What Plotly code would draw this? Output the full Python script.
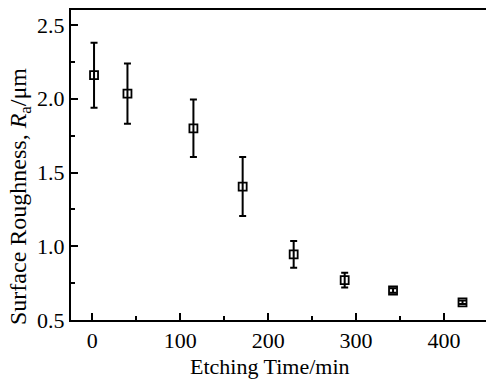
import plotly.graph_objects as go

etching_time = [2, 40, 115, 171, 229, 287, 342, 421]
roughness = [2.16, 2.035, 1.80, 1.405, 0.945, 0.77, 0.70, 0.62]
roughness_err = [0.22, 0.205, 0.195, 0.2, 0.09, 0.05, 0.015, 0.012]

font_family = "Liberation Serif"

fig = go.Figure()
fig.add_trace(go.Scatter(
    x=etching_time, y=roughness,
    mode="markers",
    marker=dict(symbol="square-open", size=8, color="black", line=dict(width=1.8, color="black")),
    error_y=dict(type="data", array=roughness_err, visible=True, color="black", thickness=2, width=3.5),
    showlegend=False,
))

W, H = 486, 384
L, T, B, R = 71, 10, 64, 0
pw, ph = W - L - R, H - T - B

fig.update_layout(
    width=W, height=H,
    margin=dict(l=L, r=R, t=T, b=B, pad=0, autoexpand=False),
    paper_bgcolor="white", plot_bgcolor="white",
    font=dict(family=font_family, size=22, color="black"),
    xaxis=dict(
        range=[-24.2, 447.7], tickmode="array", tickvals=[0, 100, 200, 300, 400],
        ticks="inside", ticklen=7, tickwidth=2, tickcolor="black",
        minor=dict(tickvals=[50, 150, 250, 350], ticks="inside", ticklen=4, tickwidth=2, tickcolor="black"),
        showline=True, linewidth=2, linecolor="black", mirror=True,
        showgrid=False, zeroline=False, automargin=False,
        tickfont=dict(family=font_family, size=22, color="black"),
    ),
    yaxis=dict(
        range=[0.5, 2.602], tickmode="array", tickvals=[0.5, 1.0, 1.5, 2.0, 2.5],
        ticktext=["0.5", "1.0", "1.5", "2.0", "2.5"],
        ticks="inside", ticklen=7, tickwidth=2, tickcolor="black",
        minor=dict(tickvals=[0.75, 1.25, 1.75, 2.25], ticks="inside", ticklen=4, tickwidth=2, tickcolor="black"),
        showline=True, linewidth=2, linecolor="black", mirror=False,
        showgrid=False, zeroline=False, automargin=False,
        tickfont=dict(family=font_family, size=22, color="black"),
    ),
    annotations=[
        dict(text="Etching Time/min", xref="paper", yref="paper",
             x=(270 - L) / pw, y=(H - B - 366) / ph, xanchor="center", yanchor="middle",
             showarrow=False, font=dict(family=font_family, size=22, color="black")),
        dict(text="Surface Roughness, <i>R</i><sub>a</sub>/μm", xref="paper", yref="paper",
             x=(20 - L) / pw, y=(H - B - 197) / ph, xanchor="center", yanchor="middle",
             textangle=-90, showarrow=False, font=dict(family=font_family, size=24, color="black")),
    ],
)

fig.write_html("out.html", config={"displayModeBar": False},
               post_script="document.body.style.margin='0px';document.body.style.overflow='hidden';")
